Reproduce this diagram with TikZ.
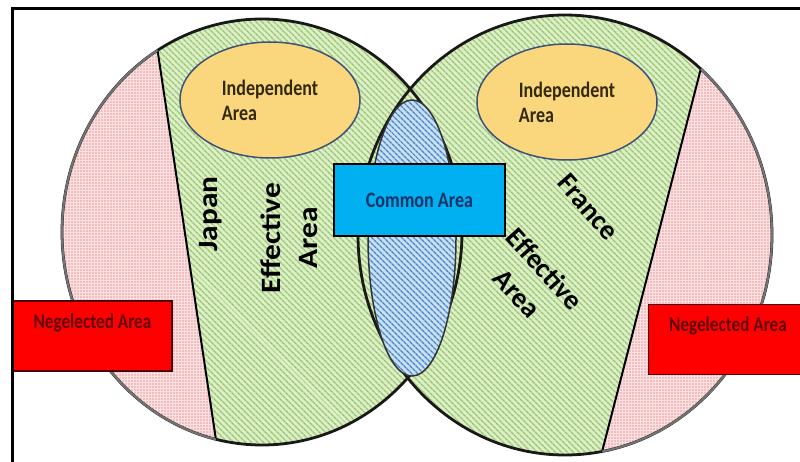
\documentclass[tikz,border=0pt]{standalone}
\usepackage{fontspec}
\setmainfont{Carlito}
\newfontfamily\flatsans[FakeStretch=0.82]{Carlito}
\newfontfamily\widesans[FakeStretch=1.12]{Carlito}
\usepackage{tikz}
\usetikzlibrary{shapes.geometric,patterns.meta}
\definecolor{effback}{RGB}{222,238,200}
\definecolor{effline}{RGB}{150,200,112}
\definecolor{negback}{RGB}{250,226,226}
\definecolor{negdot}{RGB}{236,152,156}
\definecolor{lensback}{RGB}{202,224,243}
\definecolor{lensline}{RGB}{72,132,200}
\definecolor{indfill}{RGB}{250,215,125}
\definecolor{indline}{RGB}{62,82,120}
\definecolor{indtext}{RGB}{50,40,10}
\definecolor{comfill}{RGB}{0,176,240}
\definecolor{comtext}{RGB}{22,52,104}
\definecolor{negred}{RGB}{255,0,0}
\definecolor{negtext}{RGB}{96,0,0}
\tikzset{
  effarea/.style={preaction={fill=effback}, pattern={Lines[angle=-45,distance=4pt,line width=1.5pt]}, pattern color=effline},
  negarea/.style={preaction={fill=negback}, pattern={Dots[distance=3pt,radius=0.8pt]}, pattern color=negdot},
  effrim/.style={draw=black!90, line width=2.8pt},
  negrim/.style={draw=black!55, line width=2.2pt},
  cutline/.style={draw=black, line width=2pt},
  lens/.style={ellipse, draw=black!80, line width=1.5pt, minimum width=88pt, minimum height=276pt, inner sep=0pt,
               preaction={fill=lensback}, pattern={Lines[angle=-45,distance=4pt,line width=1.5pt]}, pattern color=lensline},
  indep/.style={ellipse, draw=indline, line width=1.5pt, fill=indfill, minimum width=180pt, minimum height=116pt,
                inner sep=0pt, align=left, text=indtext, font=\fontsize{22}{25}\flatsans\bfseries},
  commonbox/.style={rectangle, draw=black, line width=2pt, fill=comfill, minimum width=171pt, minimum height=72pt,
                    text=comtext, font=\fontsize{22}{25}\flatsans\bfseries},
  negbox/.style={rectangle, draw=black!70!red, line width=1.5pt, fill=negred, minimum width=159pt, minimum height=70pt,
                 text=negtext, text height=14pt, text depth=30pt, font=\fontsize{21}{25}\flatsans\bfseries},
  bigtext/.style={inner sep=0pt, align=center, font=\fontsize{28}{37}\selectfont\bfseries},
  frame/.style={draw=black, line width=3pt},
}
\begin{document}
\begin{tikzpicture}[x=1pt,y=-1pt]
  \useasboundingbox (0,0) rectangle (800,462);

  % centres of the two countries and ends of the cut lines
  \coordinate (jc) at (262,232);
  \coordinate (fc) at (565,235);
  \coordinate (jcut1) at (150,0);
  \coordinate (jcut2) at (219.3,462);
  \coordinate (fcut1) at (718.6,0);
  \coordinate (fcut2) at (599.4,462);

  \path[effarea] (jc) ellipse [x radius=200, y radius=213];
  \path[effarea] (fc) ellipse [x radius=207, y radius=220];

  \begin{scope}
    \clip (jc) ellipse [x radius=200, y radius=213];
    \path[negarea] (jcut1) -- (jcut2) -- (0,462) -- (0,0) -- cycle;
    \draw[cutline] (jcut1) -- (jcut2);
  \end{scope}
  \begin{scope}
    \clip (fc) ellipse [x radius=207, y radius=220];
    \path[negarea] (fcut1) -- (fcut2) -- (800,462) -- (800,0) -- cycle;
    \draw[cutline] (fcut1) -- (fcut2);
  \end{scope}

  \draw[effrim] (jc) ellipse [x radius=200, y radius=213];
  \draw[effrim] (fc) ellipse [x radius=207, y radius=220];
  \begin{scope}
    \clip (jcut1) -- (jcut2) -- (0,462) -- (0,0) -- cycle;
    \draw[negrim] (jc) ellipse [x radius=200, y radius=213];
  \end{scope}
  \begin{scope}
    \clip (fcut1) -- (fcut2) -- (800,462) -- (800,0) -- cycle;
    \draw[negrim] (fc) ellipse [x radius=207, y radius=220];
  \end{scope}

  \node[lens] (commonlens) at (412,238) {};
  \node[commonbox] (commonlabel) at (419.5,200) {Common Area};

  \node[indep] (japanind) at (270,100) {Independent\\Area};
  \node[indep] (franceind) at (567,102) {Independent\\Area};

  \node[bigtext, font=\fontsize{28}{37}\widesans\bfseries, rotate=90] (japanname) at (211,214) {Japan};
  \node[bigtext, font=\fontsize{28}{37}\widesans\bfseries, rotate=90] (japaneff) at (289,238) {Effective\\Area};
  \node[bigtext, rotate=-49] (francename) at (588,207) {France};
  \node[bigtext, rotate=-48] (franceeff) at (531,281) {Effective\\Area};

  \node[negbox] (japanneg) at (92.5,336) {Negelected Area};
  \node[negbox] (franceneg) at (728,339.5) {Negelected Area};

  \draw[frame] (12,9) rectangle (830,490);
\end{tikzpicture}
\end{document}
